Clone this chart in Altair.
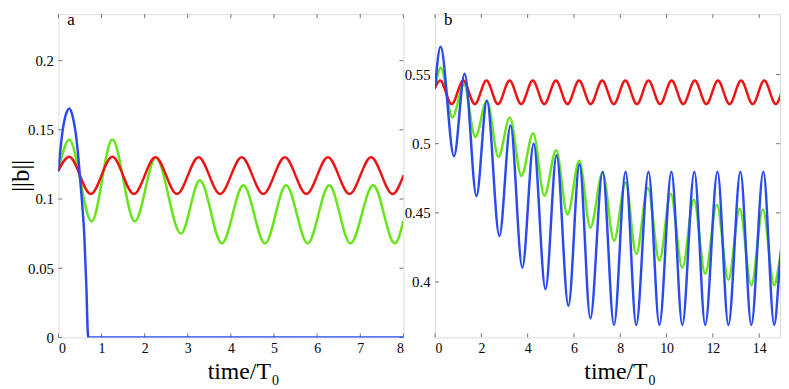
import altair as alt
import pandas as pd

# ---------------- Panel a ----------------
a_red_t = [0, 0.25, 0.75, 1.25, 1.75, 2.25, 2.75, 3.25, 3.75, 4.25, 4.75, 5.25, 5.75, 6.25, 6.75, 7.25, 7.75, 8.0]
a_red_v = [0.1207, 0.1305, 0.1036, 0.1305, 0.1036, 0.1302, 0.1036, 0.1302, 0.1036, 0.1302, 0.1036, 0.1302, 0.1036, 0.1302, 0.1036, 0.1302, 0.1036, 0.1168]

a_green_t = [0, 0.25, 0.77, 1.25, 1.77, 2.26, 2.84, 3.28, 3.79, 4.29, 4.79, 5.28, 5.78, 6.28, 6.77, 7.3, 7.8, 8.0]
a_green_v = [0.1207, 0.1429, 0.0838, 0.1430, 0.0838, 0.1300, 0.0750, 0.1135, 0.0679, 0.1100, 0.0679, 0.1100, 0.0679, 0.1100, 0.0679, 0.1100, 0.0679, 0.0840]

a_blue_t = [0, 0.1, 0.2, 0.25, 0.3, 0.35, 0.4, 0.45, 0.5, 0.55, 0.6, 0.65, 0.68, 0.69, 8.0]
a_blue_v = [0.1207, 0.1500, 0.1635, 0.1655, 0.1630, 0.1570, 0.1480, 0.1340, 0.1160, 0.0970, 0.0740, 0.0350, 0.0040, 0.0, 0.0]

a_xticks = [0, 1, 2, 3, 4, 5, 6, 7, 8]
a_yticks = [0, 0.05, 0.1, 0.15, 0.2]

# ---------------- Panel b ----------------
b_red_t = [0, 0.22, 0.72, 1.22, 1.72, 2.22, 2.72, 3.22, 3.72, 4.22, 4.72, 5.22, 5.72, 6.22, 6.72, 7.22, 7.72,
           8.22, 8.72, 9.22, 9.72, 10.22, 10.72, 11.22, 11.72, 12.22, 12.72, 13.22, 13.72, 14.22, 14.72, 15.0]
b_red_v = [0.5405, 0.5457, 0.5286, 0.5457, 0.5286, 0.5457, 0.5286, 0.5457, 0.5286, 0.5457, 0.5286, 0.5457, 0.5286,
           0.5457, 0.5286, 0.5457, 0.5286, 0.5457, 0.5286, 0.5457, 0.5286, 0.5457, 0.5286, 0.5457, 0.5286, 0.5457,
           0.5286, 0.5457, 0.5286, 0.5457, 0.5286, 0.5390]

b_green_t = [0, 0.25, 0.75, 1.25, 1.74, 2.24, 2.74, 3.23, 3.73, 4.24, 4.72, 5.23, 5.72, 6.23, 6.71, 7.24, 7.73,
             8.23, 8.69, 9.19, 9.69, 10.18, 10.68, 11.18, 11.67, 12.17, 12.67, 13.16, 13.66, 14.16, 14.65, 14.9, 15.0]
b_green_v = [0.5405, 0.5548, 0.5190, 0.5429, 0.5048, 0.5310, 0.4905, 0.5190, 0.4767, 0.5076, 0.4624, 0.4952, 0.4488,
             0.4876, 0.4393, 0.4790, 0.4298, 0.4719, 0.4202, 0.4679, 0.4155, 0.4638, 0.4102, 0.4595, 0.4059, 0.4559,
             0.4016, 0.4530, 0.3976, 0.4524, 0.3976, 0.4171, 0.4250]

b_blue_t = [0, 0.24, 0.82, 1.28, 1.79, 2.24, 2.78, 3.26, 3.77, 4.26, 4.77, 5.25, 5.76, 6.24, 6.71, 7.24, 7.73,
            8.23, 8.69, 9.22, 9.69, 10.21, 10.68, 11.2, 11.67, 12.2, 12.67, 13.19, 13.66, 14.18, 14.65, 14.9, 15.0]
b_blue_v = [0.5405, 0.5700, 0.4910, 0.5505, 0.4622, 0.5310, 0.4333, 0.5131, 0.4104, 0.5000, 0.3948, 0.4917, 0.3829,
            0.4852, 0.3738, 0.4798, 0.3690, 0.4798, 0.3690, 0.4798, 0.3690, 0.4798, 0.3690, 0.4798, 0.3690, 0.4798,
            0.3690, 0.4798, 0.3690, 0.4798, 0.3690, 0.4150, 0.4350]

b_xticks = [0, 2, 4, 6, 8, 10, 12, 14]
b_yticks = [0.4, 0.45, 0.5, 0.55]

RED = "#ee1414"
GREEN = "#66e61a"
BLUE = "#2a4af0"
FRAME = "#707070"
FONT = "Liberation Serif"
W, H = 349, 327


def panel(series, xdom, ydom, xticks, yticks, letter, with_ytitle):
    xs = alt.Scale(domain=xdom, nice=False, zero=False)
    ys = alt.Scale(domain=ydom, nice=False, zero=False)
    xaxis = alt.Axis(values=xticks, format="~g", ticks=False, tickSize=0, domain=False, grid=False,
                     labelPadding=4, title=None, labelFont=FONT, labelFontSize=14, labelColor="black")
    yaxis = alt.Axis(values=yticks, format="~g", ticks=False, tickSize=0, domain=False, grid=False,
                     labelPadding=5, title=None, labelFont=FONT, labelFontSize=15, labelColor="black")
    X = lambda: alt.X("t:Q", scale=xs, axis=xaxis)
    Y = lambda: alt.Y("v:Q", scale=ys, axis=yaxis)
    layers = []
    dfx = pd.DataFrame({"t": xticks})
    dfy = pd.DataFrame({"v": yticks})
    rule = dict(color=FRAME, strokeWidth=1)
    layers.append(alt.Chart(dfx).mark_rule(**rule).encode(x=X(), y=alt.value(0), y2=alt.value(4)))
    layers.append(alt.Chart(dfx).mark_rule(**rule).encode(x=X(), y=alt.value(H), y2=alt.value(H - 4)))
    layers.append(alt.Chart(dfy).mark_rule(**rule).encode(y=Y(), x=alt.value(0), x2=alt.value(4)))
    layers.append(alt.Chart(dfy).mark_rule(**rule).encode(y=Y(), x=alt.value(W - 4), x2=alt.value(W)))
    for t, v, color in series:
        df = pd.DataFrame({"t": t, "v": v})
        layers.append(alt.Chart(df).mark_line(color=color, strokeWidth=2.5, interpolate="monotone",
                                              clip=True, strokeCap="round").encode(x=X(), y=Y()))
    layers.append(alt.Chart(pd.DataFrame({"s": [letter]})).mark_text(
        font=FONT, fontSize=17, align="left", baseline="alphabetic", color="black").encode(
        x=alt.value(9), y=alt.value(11), text="s:N"))
    layers.append(alt.Chart(pd.DataFrame({"s": ["time/T"]})).mark_text(
        font=FONT, fontSize=24, align="right", baseline="alphabetic", color="black").encode(
        x=alt.value(215), y=alt.value(369), text="s:N"))
    layers.append(alt.Chart(pd.DataFrame({"s": ["0"]})).mark_text(
        font=FONT, fontSize=14, align="left", baseline="alphabetic", color="black").encode(
        x=alt.value(216), y=alt.value(375), text="s:N"))
    if with_ytitle:
        layers.append(alt.Chart(pd.DataFrame({"s": ["||b||"]})).mark_text(
            font=FONT, fontSize=25, angle=270, align="center", baseline="middle", color="black").encode(
            x=alt.value(-38), y=alt.value(H / 2), text="s:N"))
    return alt.layer(*layers).properties(width=W, height=H)


pa = panel([(a_green_t, a_green_v, GREEN), (a_red_t, a_red_v, RED), (a_blue_t, a_blue_v, BLUE)],
           [0, 8], [0, 0.2336], a_xticks, a_yticks, "a", True)
pb = panel([(b_green_t, b_green_v, GREEN), (b_red_t, b_red_v, RED), (b_blue_t, b_blue_v, BLUE)],
           [0, 14.9], [0.36, 0.5936], b_xticks, b_yticks, "b", False)

chart = alt.hconcat(pa, pb, spacing=32).properties(
    bounds="flush", padding={"left": 0, "top": 0, "right": 0, "bottom": 0}
).configure_view(stroke=FRAME, strokeWidth=1).configure(background="white")

chart.save("out.html", embed_options={"renderer": "svg", "actions": False})
